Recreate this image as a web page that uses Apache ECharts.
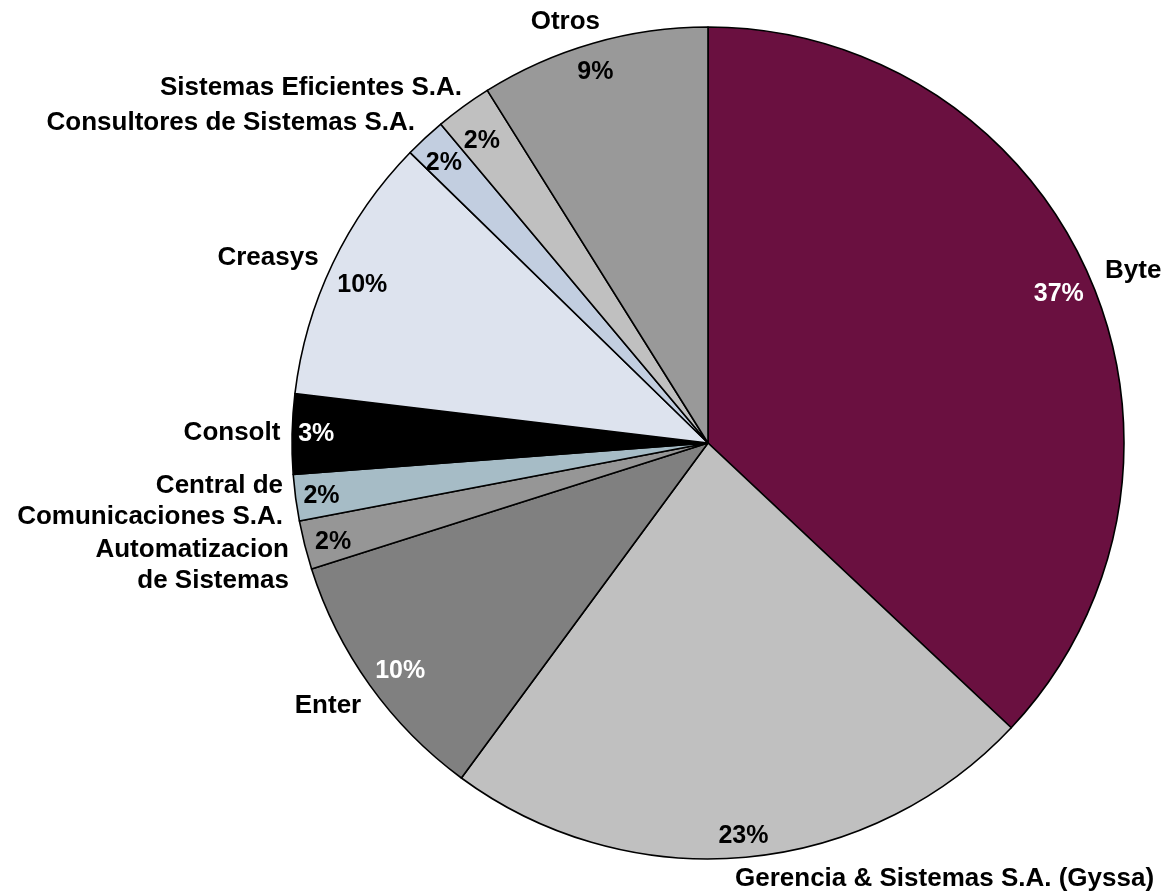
<!DOCTYPE html>
<html>
<head>
<meta charset="utf-8">
<script src="https://cdn.jsdelivr.net/npm/echarts@6/dist/echarts.min.js"></script>
<style>
html,body{margin:0;padding:0;background:#fff;}
#chart{width:1163px;height:896px;}
</style>
</head>
<body>
<div id="chart"></div>
<script>
// ---- data ----
const categories = [
  'Byte',
  'Gerencia & Sistemas S.A. (Gyssa)',
  'Enter',
  'Automatizacion\nde Sistemas',
  'Central de\nComunicaciones S.A.',
  'Consolt',
  'Creasys',
  'Consultores de Sistemas S.A.',
  'Sistemas Eficientes S.A.',
  'Otros'
];
const shares = [37.0, 23.1, 10.0, 1.9, 1.8, 3.1, 10.4, 1.6, 2.2, 8.9];

// ---- styles ----
const sliceColors = ['#6A1040', '#C0C0C0', '#808080', '#969696', '#A6BCC6', '#000000', '#DDE3EE', '#C2CEE0', '#C0C0C0', '#999999'];
const pctColors = ['#FFFFFF', '#000000', '#FFFFFF', '#000000', '#000000', '#FFFFFF', '#000000', '#000000', '#000000', '#000000'];
// name label anchors: [x, y, align]
const nameAnchors = [
  [1105, 271, 'left'],
  [735, 879, 'left'],
  [328, 706, 'center'],
  [289, 565, 'right'],
  [283, 501, 'right'],
  [232, 433, 'center'],
  [268, 258, 'center'],
  [415, 123, 'right'],
  [462, 88, 'right'],
  [600, 22, 'right']
];
// small nudges of the percent labels from their default in-slice spot: [dx, dy]
const pctNudge = [
  [-7, 6], [0, 5], [9, 1], [3, 3], [0, 2], [-2, 0], [6, 10], [1, 6], [3, 14], [-5, 4]
];

const FONT = '"Liberation Sans", Arial, sans-serif';
const CENTER = [708, 443];
const R = 416;

const chart = echarts.init(document.getElementById('chart'), null, {renderer: 'canvas'});

const mainData = categories.map((c, i) => ({
  name: c,
  value: shares[i],
  itemStyle: {color: sliceColors[i]}
}));
const pctData = categories.map((c, i) => ({
  name: c,
  value: shares[i],
  label: {color: pctColors[i]}
}));

chart.setOption({
  animation: false,
  backgroundColor: '#ffffff',
  series: [
    {
      type: 'pie',
      center: CENTER,
      radius: [0, R],
      startAngle: 90,
      clockwise: true,
      avoidLabelOverlap: false,
      silent: true,
      itemStyle: {borderColor: '#000000', borderWidth: 1.6},
      label: {
        show: true,
        position: 'outside',
        formatter: '{b}',
        fontFamily: FONT,
        fontWeight: 'bold',
        fontSize: 26,
        lineHeight: 31,
        color: '#000000'
      },
      labelLine: {show: false},
      labelLayout: function (params) {
        const a = nameAnchors[params.dataIndex];
        return {x: a[0], y: a[1], align: a[2], verticalAlign: 'middle'};
      },
      data: mainData
    },
    {
      type: 'pie',
      center: CENTER,
      radius: [R * 0.86, R],
      startAngle: 90,
      clockwise: true,
      avoidLabelOverlap: false,
      silent: true,
      z: 5,
      itemStyle: {color: 'rgba(0,0,0,0)', borderWidth: 0},
      label: {
        show: true,
        position: 'inside',
        formatter: function (p) { return Math.round(p.percent) + '%'; },
        fontFamily: FONT,
        fontWeight: 'bold',
        fontSize: 25
      },
      labelLine: {show: false},
      labelLayout: function (params) {
        const n = pctNudge[params.dataIndex];
        return {dx: n[0], dy: n[1]};
      },
      data: pctData
    }
  ]
});
</script>
</body>
</html>
